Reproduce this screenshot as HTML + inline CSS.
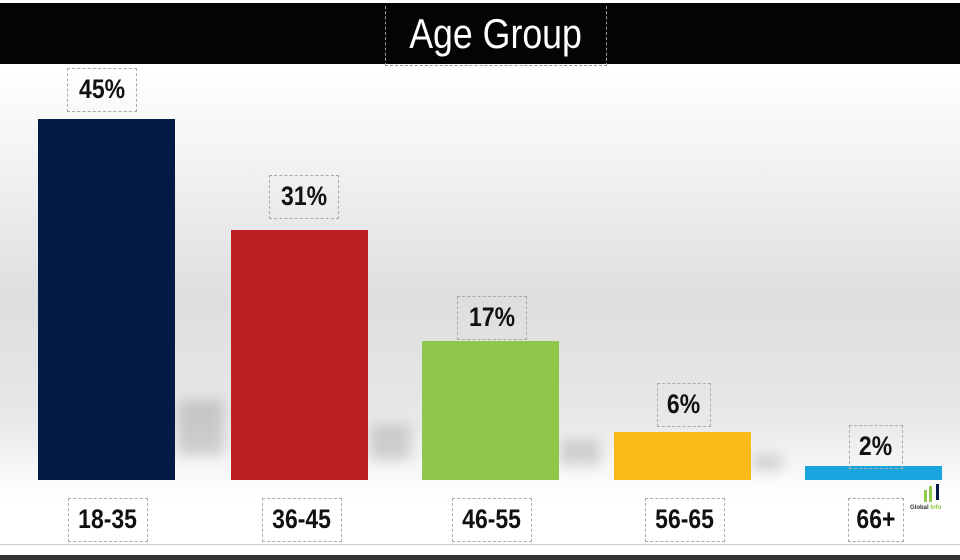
<!DOCTYPE html>
<html><head><style>
body{margin:0;width:960px;height:560px;overflow:hidden;font-family:"Liberation Sans",sans-serif;}
#c{position:relative;width:960px;height:560px;background:linear-gradient(180deg,#fff 0px,#fff 70px,#f4f4f4 150px,#dedede 300px,#e8e8e8 420px,#fafafa 480px,#fff 500px,#fff 545px);}
.band{position:absolute;left:0;top:3px;width:960px;height:61px;background:#030405;}
.title{position:absolute;left:385px;top:6px;width:220px;height:59px;border:1px dashed #999;border-width:0 1px 1px 1px;color:#fff;font-size:42px;text-align:center;line-height:56px;}
.title span{display:inline-block;transform:scaleX(0.85);}
.bar{position:absolute;bottom:80px;width:137px;}
.lbl{position:absolute;font-weight:bold;font-size:27px;color:#111;border:1px dashed #aaa;text-align:center;line-height:40px;height:42px;}
.lbl span{display:inline-block;transform:scaleX(0.85);}
.sh{position:absolute;background:rgba(0,0,0,0.14);filter:blur(6px);}
</style></head><body><div id="c">
<div class="band"></div>
<div class="title"><span>Age Group</span></div>
<div class="sh" style="left:178px;top:400px;width:45px;height:55px"></div>
<div class="sh" style="left:370px;top:425px;width:40px;height:35px"></div>
<div class="sh" style="left:560px;top:440px;width:40px;height:25px"></div>
<div class="sh" style="left:752px;top:455px;width:30px;height:15px"></div>
<div class="bar" style="left:38px;top:119px;background:#031a45"></div>
<div class="bar" style="left:231px;top:230px;background:#bb1f24"></div>
<div class="bar" style="left:422px;top:341px;background:#8fc74a"></div>
<div class="bar" style="left:614px;top:432px;background:#fbba17"></div>
<div class="bar" style="left:805px;top:466px;width:137px;background:#1ba5df"></div>
<div class="lbl" style="left:67px;top:68px;width:68px"><span>45%</span></div>
<div class="lbl" style="left:269px;top:175px;width:68px"><span>31%</span></div>
<div class="lbl" style="left:457px;top:296px;width:68px"><span>17%</span></div>
<div class="lbl" style="left:657px;top:383px;width:52px"><span>6%</span></div>
<div class="lbl" style="left:849px;top:425px;width:52px"><span>2%</span></div>
<div class="lbl" style="left:68px;top:498px;width:78px"><span>18-35</span></div>
<div class="lbl" style="left:262px;top:498px;width:78px"><span>36-45</span></div>
<div class="lbl" style="left:452px;top:498px;width:78px"><span>46-55</span></div>
<div class="lbl" style="left:645px;top:498px;width:78px"><span>56-65</span></div>
<div class="lbl" style="left:848px;top:498px;width:54px"><span>66+</span></div>
<div style="position:absolute;left:910px;top:505px;font-size:6px;color:#333;font-weight:bold">Global <span style="color:#8fc74a">Info</span></div>
<div style="position:absolute;left:924px;top:490px;width:3px;height:12px;background:#8fc74a"></div>
<div style="position:absolute;left:929px;top:486px;width:3px;height:16px;background:#8fc74a"></div>
<div style="position:absolute;left:936px;top:484px;width:3px;height:16px;background:#031a45"></div>
<div style="position:absolute;left:0;top:544px;width:960px;height:1px;background:#ccc"></div>
<div style="position:absolute;left:0;top:555px;width:960px;height:5px;background:#333"></div>
</div></body></html>
